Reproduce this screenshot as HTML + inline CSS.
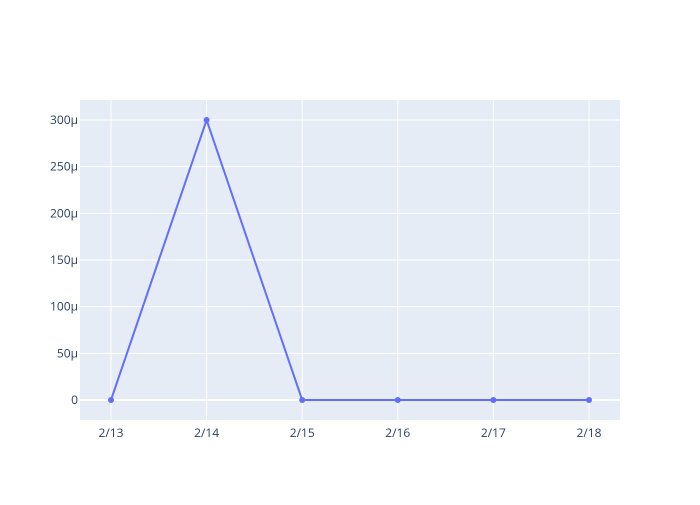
<!DOCTYPE html>
<html><head><meta charset="utf-8"><style>
body{margin:0;background:#fff;}
text{font-family:"Open Sans","Liberation Sans",sans-serif;font-size:12px;fill:#2a3f5f;}
</style></head><body>
<svg width="700" height="500">
<rect x="80" y="100" width="540" height="320" fill="#e5ecf6"/>
<g id="grid"></g><g id="series"></g><g id="labels"></g>
</svg>
<script>
const categories=['2/13','2/14','2/15','2/16','2/17','2/18'];
const values=[0,300e-6,0,0,0,0];
const yTicks=[0,50e-6,100e-6,150e-6,200e-6,250e-6,300e-6];
const yTickLabels=['0','50µ','100µ','150µ','200µ','250µ','300µ'];
const NS='http://www.w3.org/2000/svg';
const x=i=>111+i*(589-111)/5;
const y=v=>400-v*(280/300e-6);
function mk(t,a,p){const e=document.createElementNS(NS,t);for(const k in a)e.setAttribute(k,a[k]);p.appendChild(e);return e;}
const g=document.getElementById('grid'),s=document.getElementById('series'),l=document.getElementById('labels');
categories.forEach((c,i)=>{
 const ln=mk('line',{x1:x(i),x2:x(i),y1:100,y2:420,stroke:'#fff','stroke-width':1},g);
 
 
 const t=mk('text',{x:x(i),y:437,'text-anchor':'middle'},l);t.textContent=c;
 
 
});
yTicks.forEach((v,i)=>{
 const ln=mk('line',{x1:80,x2:620,y1:y(v),y2:y(v),stroke:'#fff','stroke-width':v===0?2:1},g);
 
 
 const t=mk('text',{x:78,y:y(v)+4,'text-anchor':'end'},l);t.textContent=yTickLabels[i];
 
 
});
const p=mk('polyline',{points:values.map((v,i)=>x(i)+','+y(v)).join(' '),fill:'none',stroke:'#636efa','stroke-width':2},s);


values.forEach((v,i)=>{
 const c=mk('circle',{cx:x(i),cy:y(v),r:3,fill:'#636efa'},s);
 
 
});
</script>
</body></html>
